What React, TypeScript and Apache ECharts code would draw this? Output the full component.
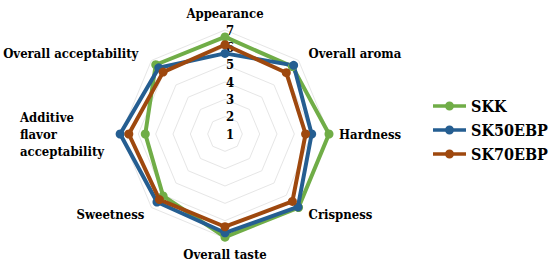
import React, { useEffect, useRef } from "react";
import * as echarts from "echarts";

// Indicators listed in ECharts' (counter-clockwise) order starting at the top
const indicators = [
  "Appearance",
  "Overall acceptability",
  "Additive flavor acceptability",
  "Sweetness",
  "Overall taste",
  "Crispness",
  "Hardness",
  "Overall aroma",
];
const seriesNames = ["SKK", "SK50EBP", "SK70EBP"];
const skk = [6.6, 6.65, 5.6, 6.05, 6.95, 7.0, 7.0, 6.5];
const sk50ebp = [5.65, 6.4, 7.05, 6.55, 6.7, 6.95, 6.0, 6.6];
const sk70ebp = [6.15, 6.05, 6.55, 6.35, 6.35, 6.5, 5.65, 6.0];
const axisMin = 1;
const axisMax = 7;

const colors = ["#70AD47", "#255E91", "#9E480E"];
const FONT = "DejaVu Serif Condensed, DejaVu Serif";
const legendIcon =
  "path://M0,3.2H33V6.8H0Z M12,5a4.5,4.5 0 1,1 9,0a4.5,4.5 0 1,1 -9,0Z";

const nameStyle = {
  color: "#000",
  fontFamily: FONT,
  fontWeight: "bold",
  fontSize: 13,
};

export default function App() {
  const ref = useRef<HTMLDivElement>(null);
  useEffect(() => {
    if (!ref.current) return;
    const chart = echarts.init(ref.current, null, { renderer: "svg" });
    const values = [skk, sk50ebp, sk70ebp];
    chart.setOption({
      animation: false,
      backgroundColor: "#ffffff",
      textStyle: { fontFamily: FONT },
      legend: {
        orient: "vertical",
        left: 428,
        top: 93,
        itemWidth: 33,
        itemHeight: 10,
        itemGap: 8,
        icon: legendIcon,
        data: seriesNames,
        textStyle: { fontFamily: FONT, fontWeight: "bold", fontSize: 16, color: "#000" },
      },
      radar: {
        center: [225, 134],
        radius: 104,
        startAngle: 90,
        splitNumber: axisMax - axisMin,
        shape: "polygon",
        nameGap: 10,
        indicator: indicators.map((name, i) => ({
          name,
          min: axisMin,
          max: axisMax,
          ...(i === 0
            ? {
                axisLabel: {
                  show: true,
                  showMinLabel: true,
                  fontFamily: FONT,
                  fontWeight: "bold",
                  fontSize: 13,
                  color: "#000",
                  margin: -5,
                  align: "center",
                },
              }
            : {}),
        })),
        axisName: {
          ...nameStyle,
          formatter: (name: string) => {
            if (name === "Additive flavor acceptability")
              return "{l|Additive}\n{l|flavor}\n{l|acceptability}";
            if (name === "Overall acceptability") return "{oa|" + name + "}";
            if (name === "Overall aroma" || name === "Crispness") return "{r|" + name + "}";
            return name;
          },
          rich: {
            l: {
              ...nameStyle,
              width: 82,
              align: "left",
              padding: [0, 9, 0, 0],
              lineHeight: 17,
            },
            oa: { ...nameStyle, padding: [0, 6, 0, 0] },
            r: { ...nameStyle, padding: [0, 0, 0, 3] },
          },
        },
        axisLine: { show: false },
        axisTick: { show: false },
        axisLabel: { show: false },
        splitArea: { show: false },
        splitLine: { lineStyle: { color: "#E6E6E6", width: 1 } },
      },
      series: [
        {
          type: "radar",
          symbol: "circle",
          symbolSize: 9,
          data: seriesNames.map((name, i) => ({
            name,
            value: values[i],
            itemStyle: { color: colors[i] },
            lineStyle: { color: colors[i], width: 4 },
          })),
        },
      ],
    });
    return () => chart.dispose();
  }, []);
  return (
    <div
      ref={ref}
      style={{ position: "fixed", left: 0, top: 0, width: 550, height: 264 }}
    />
  );
}
